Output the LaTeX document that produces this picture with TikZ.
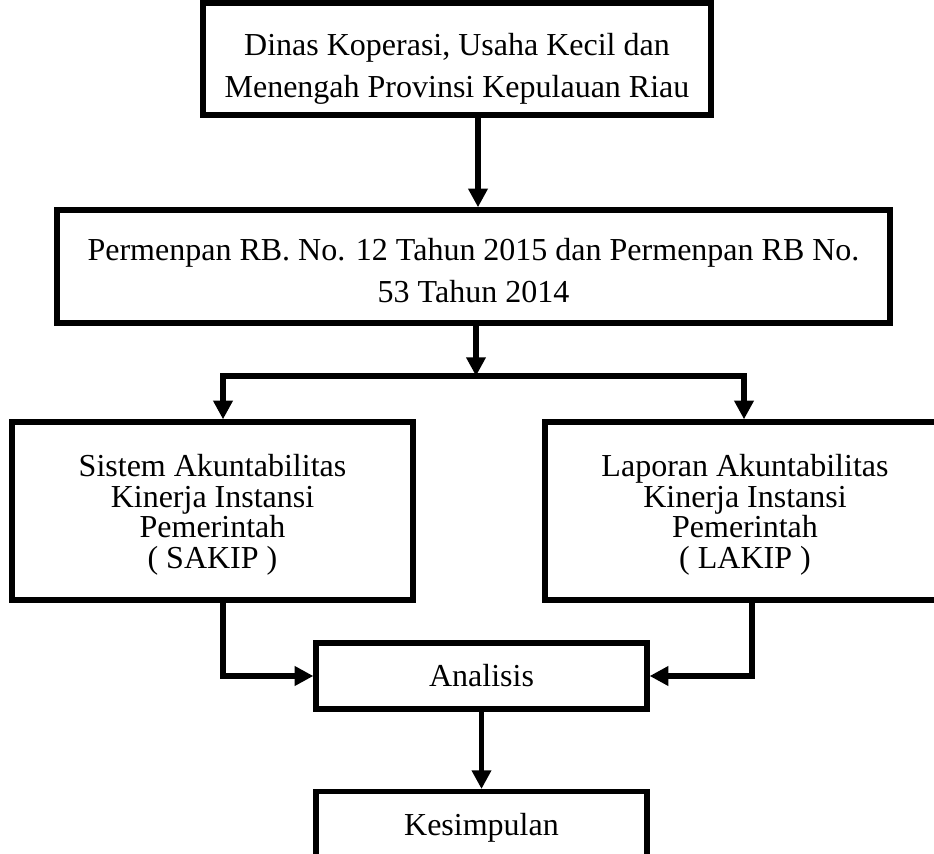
\documentclass[tikz,border=0pt]{standalone}
\usepackage{fontspec}
\setmainfont{Liberation Serif}
\usetikzlibrary{arrows.meta}
\begin{document}
\begin{tikzpicture}[x=0.375pt,y=-0.375pt,
    box/.style={draw,line width=2pt,align=center,inner sep=0pt,font=\fontsize{12}{15.75}\selectfont},
    sidebox/.style={box,font=\fontsize{12}{11.5}\selectfont},
    arr/.style={line width=1.9pt,-{Triangle[length=7pt,width=7pt]}}]
    \path[use as bounding box,clip] (0,0) rectangle (934,854);
    % boxes
    \node[box,text height=31.3pt,minimum width=190.5pt,minimum height=42pt] (dinas) at (457,59) {Dinas Koperasi, Usaha Kecil dan\\Menengah Provinsi Kepulauan Riau};
    \node[box,text height=27.2pt,minimum width=312.4pt,minimum height=42.4pt] (perm) at (473.5,266.5) {Permenpan RB. No. 12 Tahun 2015 dan Permenpan RB No.\\53 Tahun 2014};
    \node[sidebox,text height=45.6pt,minimum width=150.4pt,minimum height=66.75pt] (sakip) at (212.5,511) {Sistem Akuntabilitas\\Kinerja Instansi\\Pemerintah\\( SAKIP )};
    \node[sidebox,text height=45.6pt,minimum width=150pt,minimum height=66.75pt] (lakip) at (745,511) {Laporan Akuntabilitas\\Kinerja Instansi\\Pemerintah\\( LAKIP )};
    \node[box,minimum width=124.1pt,minimum height=24.75pt] (analisis) at (481.5,676) {Analisis};
    \node[box,anchor=north,minimum width=124.1pt,minimum height=27pt] (kesimpulan) at (481.5,789) {Kesimpulan};
    % connectors
    \coordinate (d1) at (478,0);
    \coordinate (split) at (476,376);
    \coordinate (bl) at (223,376);
    \coordinate (br) at (744,376);
    \coordinate (dr) at (752,678);
    \draw[arr] (dinas.south -| d1) -- (perm.north -| d1);
    \draw[arr] (perm.south -| split) -- (split);
    \draw[arr] (split) -| (sakip.north -| bl);
    \draw[arr] (split) -| (lakip.north -| br);
    \draw[arr] (sakip.south -| bl) |- (analisis.west);
    \draw[arr] (lakip.south -| dr) |- (analisis.east);
    \draw[arr] (analisis) -- (kesimpulan);
\end{tikzpicture}
\end{document}
